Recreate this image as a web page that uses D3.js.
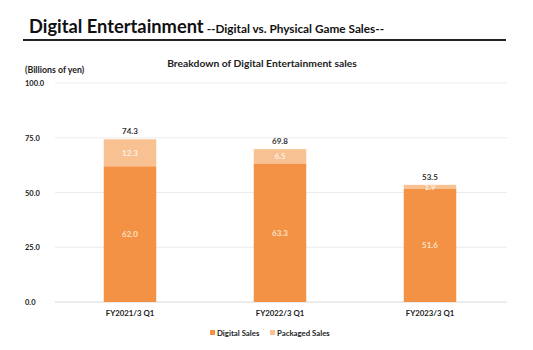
<!DOCTYPE html>
<html><head><meta charset="utf-8">
<script src="https://cdn.jsdelivr.net/npm/d3@7"></script>
<style>body{margin:0;background:#fff}svg{display:block;font-family:Lato,"Open Sans",sans-serif}</style>
</head><body><svg id="c" width="533" height="350"></svg>
<script>
const categories = ["FY2021/3 Q1", "FY2022/3 Q1", "FY2023/3 Q1"];
const digitalSales = [62.0, 63.3, 51.6];
const packagedSales = [12.3, 6.5, 1.9];
const totals = [74.3, 69.8, 53.5];
const yTicks = [0, 25, 50, 75, 100];
const seriesNames = ["Digital Sales", "Packaged Sales"];
const colors = ["#F39244", "#F8C192"];

const svg = d3.select("#c");
const x = d3.scaleBand().domain(categories).range([55, 505]).paddingInner(0.65).paddingOuter(0.325);
const y = d3.scaleLinear().domain([0, 100]).range([302, 83]);

// title
svg.append("text").attr("x", 29).attr("y", 33).attr("font-size", 18.3).attr("font-weight", 700).attr("fill", "#111")
  .text("Digital Entertainment")
  .append("tspan").attr("font-size", 11.8).attr("dx", 3).text("--Digital vs. Physical Game Sales--");
svg.append("line").attr("x1", 23).attr("x2", 506).attr("y1", 40).attr("y2", 40).attr("stroke", "#222").attr("stroke-width", 2.2);

svg.append("text").attr("x", 262).attr("y", 67).attr("text-anchor", "middle").attr("font-size", 10.3).attr("font-weight", 700).attr("fill", "#222")
  .text("Breakdown of Digital Entertainment sales");
svg.append("text").attr("x", 25).attr("y", 73).attr("font-size", 8.8).attr("font-weight", 700).attr("fill", "#222").text("(Billions of yen)");

// grid
svg.append("g").selectAll("line").data(yTicks).join("line")
  .attr("x1", 55).attr("x2", 507).attr("y1", d => y(d)).attr("y2", d => y(d))
  .attr("stroke", d => d === 0 ? "#d9d9d9" : "#ececec").attr("stroke-width", 1);
svg.append("g").selectAll("text").data(yTicks).join("text")
  .attr("x", 25).attr("y", d => y(d) + 3).attr("font-size", 7.5).attr("font-weight", 700).attr("fill", "#222")
  .text(d => d.toFixed(1));

// bars
const data = categories.map((c, i) => ({cat: c, digital: digitalSales[i], packaged: packagedSales[i], total: totals[i]}));
const stack = d3.stack().keys(["digital", "packaged"])(data);
svg.append("g").selectAll("g").data(stack).join("g").attr("fill", (d, i) => colors[i])
  .selectAll("rect").data(d => d).join("rect")
  .attr("x", d => x(d.data.cat)).attr("width", x.bandwidth())
  .attr("y", d => y(d[1])).attr("height", d => y(d[0]) - y(d[1]));

// segment labels
stack.forEach((s, si) => {
  svg.append("g").selectAll("text").data(s).join("text")
    .attr("x", d => x(d.data.cat) + x.bandwidth() / 2)
    .attr("y", d => (y(d[0]) + y(d[1])) / 2 + 3)
    .attr("text-anchor", "middle").attr("font-size", 8).attr("font-weight", 700)
    .attr("fill", si === 0 ? "#FBE0C8" : "#FDF0E4")
    .text((d, i) => (si === 0 ? digitalSales[i] : packagedSales[i]).toFixed(1));
});
// totals
svg.append("g").selectAll("text").data(data).join("text")
  .attr("x", d => x(d.cat) + x.bandwidth() / 2).attr("y", d => y(d.total) - 5)
  .attr("text-anchor", "middle").attr("font-size", 8).attr("font-weight", 700).attr("fill", "#333")
  .text(d => d.total.toFixed(1));

// x labels
svg.append("g").selectAll("text").data(categories).join("text")
  .attr("x", d => x(d) + x.bandwidth() / 2).attr("y", 316).attr("text-anchor", "middle")
  .attr("font-size", 7.8).attr("font-weight", 700).attr("fill", "#222").text(d => d);

// legend
const lg = svg.append("g").selectAll("g").data(seriesNames).join("g")
  .attr("transform", (d, i) => `translate(${[210, 270][i]},331)`);
lg.append("rect").attr("width", 5).attr("height", 5).attr("y", -1).attr("fill", (d, i) => colors[i]);
lg.append("text").attr("x", 7).attr("y", 4.5).attr("font-size", 7.8).attr("font-weight", 700).attr("fill", "#222").text(d => d);
</script></body></html>
